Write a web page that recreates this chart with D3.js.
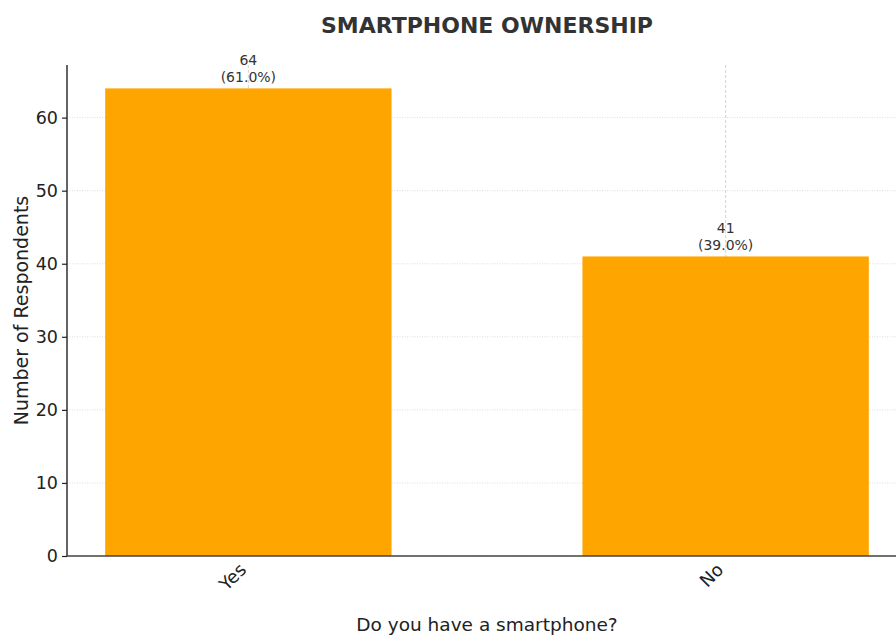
<!DOCTYPE html>
<html lang="en">
<head>
<meta charset="UTF-8">
<title>Smartphone Ownership</title>
<script src="https://d3js.org/d3.v7.min.js"></script>
<style>
    body { margin: 0; background: #fff; }
    svg { font-family: "DejaVu Sans", sans-serif; display: block; }
</style>
</head>
<body>
<div id="chart"></div>
<script>
    // Data
    const categories = ["Yes", "No"];
    const counts = [64, 41];
    const percents = ["61.0%", "39.0%"];
    const yTicks = [0, 10, 20, 30, 40, 50, 60];

    const W = 896, H = 636;
    const margin = { top: 65, left: 67, bottom: 80 };
    const plotRight = 907; // the plot runs past the right edge of the picture

    const svg = d3.select("#chart").append("svg")
        .attr("width", W)
        .attr("height", H);

    // Scales (categorical positions as in a matplotlib bar chart)
    const x = d3.scaleLinear()
        .domain([-0.38, categories.length - 1 + 0.38])
        .range([margin.left, plotRight]);
    const y = d3.scaleLinear()
        .domain([0, 67.2])
        .range([H - margin.bottom, margin.top]);
    const barW = x(0.6) - x(0);

    // Horizontal grid
    svg.append("g")
        .selectAll("line")
        .data(yTicks)
        .join("line")
        .attr("x1", margin.left)
        .attr("x2", plotRight)
        .attr("y1", d => y(d))
        .attr("y2", d => y(d))
        .attr("stroke", "#d4d4d4")
        .attr("stroke-width", 0.8)
        .attr("stroke-dasharray", "1,1.5");

    // Vertical grid
    svg.append("g")
        .selectAll("line")
        .data(categories)
        .join("line")
        .attr("x1", (d, i) => x(i))
        .attr("x2", (d, i) => x(i))
        .attr("y1", margin.top)
        .attr("y2", H - margin.bottom)
        .attr("stroke", "#c8c8c8")
        .attr("stroke-width", 0.8)
        .attr("stroke-dasharray", "3,2");

    // Bars
    svg.append("g")
        .selectAll("rect")
        .data(counts)
        .join("rect")
        .attr("x", (d, i) => x(i) - barW / 2)
        .attr("y", d => y(d))
        .attr("width", barW)
        .attr("height", d => y(0) - y(d))
        .attr("fill", "#FFA500");

    // Bar labels
    const labels = svg.append("g")
        .selectAll("text")
        .data(counts)
        .join("text")
        .attr("text-anchor", "middle")
        .attr("font-size", 14)
        .attr("fill", "#333");
    labels.append("tspan")
        .attr("x", (d, i) => x(i))
        .attr("y", d => y(d) - 23)
        .text(d => d);
    labels.append("tspan")
        .attr("x", (d, i) => x(i))
        .attr("y", d => y(d) - 6)
        .text((d, i) => "(" + percents[i] + ")");

    // Y axis
    const yAxis = svg.append("g")
        .attr("transform", `translate(${margin.left},0)`)
        .call(d3.axisLeft(y).tickValues(yTicks).tickSize(5).tickPadding(4));
    yAxis.select(".domain").attr("stroke", "#222").attr("stroke-width", 1.4).attr("d", `M0,${margin.top}V${y(0)}`);
    yAxis.selectAll(".tick line").attr("stroke", "#222").attr("stroke-width", 1.2);
    yAxis.selectAll(".tick text").attr("font-size", 17.5).attr("fill", "#222").attr("font-family", "DejaVu Sans");

    // X axis
    svg.append("line")
        .attr("x1", margin.left)
        .attr("x2", plotRight)
        .attr("y1", y(0))
        .attr("y2", y(0))
        .attr("stroke", "#444")
        .attr("stroke-width", 1.4);

    svg.append("g")
        .selectAll("text")
        .data(categories)
        .join("text")
        .attr("transform", (d, i) => `translate(${x(i) - 10},${y(0) + 6}) rotate(-45)`)
        .attr("text-anchor", "end")
        .attr("dy", "0.7em")
        .attr("font-size", 18)
        .attr("fill", "#222")
        .text(d => d);

    // Title
    svg.append("text")
        .attr("x", (margin.left + plotRight) / 2)
        .attr("y", 33)
        .attr("text-anchor", "middle")
        .attr("font-size", 22)
        .attr("font-weight", "bold")
        .attr("fill", "#333")
        .text("SMARTPHONE OWNERSHIP");

    // Axis labels
    svg.append("text")
        .attr("x", (margin.left + plotRight) / 2)
        .attr("y", 631)
        .attr("text-anchor", "middle")
        .attr("font-size", 18.5)
        .attr("fill", "#222")
        .text("Do you have a smartphone?");

    svg.append("text")
        .attr("transform", `translate(28,${(margin.top + y(0)) / 2}) rotate(-90)`)
        .attr("text-anchor", "middle")
        .attr("font-size", 19)
        .attr("fill", "#222")
        .text("Number of Respondents");
</script>
</body>
</html>
